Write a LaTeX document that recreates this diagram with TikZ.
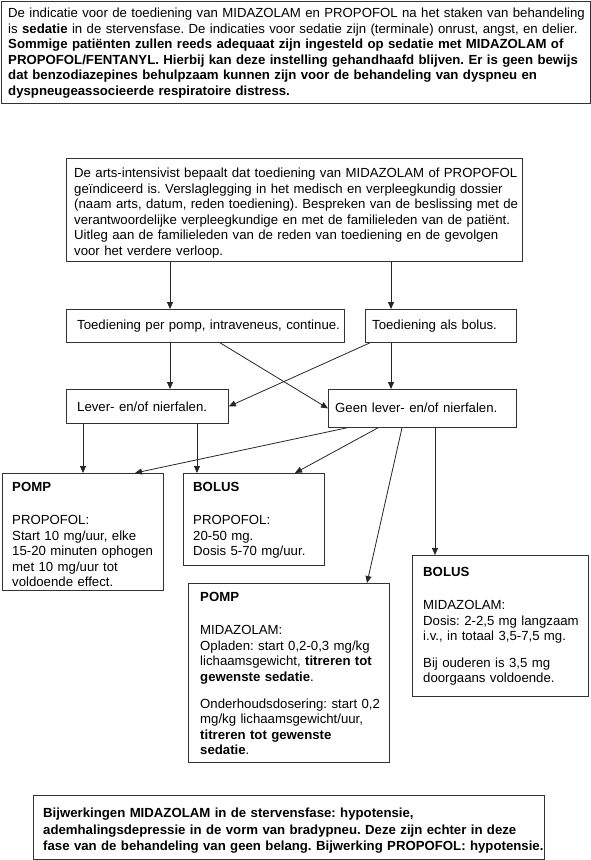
\documentclass[tikz,border=0pt]{standalone}
\usepackage{fontspec}
\setmainfont{Liberation Sans}
\usetikzlibrary{arrows.meta}
\frenchspacing
\begin{document}
\begin{tikzpicture}[x=1pt,y=-1pt,
  box/.style={draw=black!80, line width=0.8pt, inner sep=0pt, anchor=north west},
  txt/.style={anchor=base west, inner sep=0pt, align=left, font=\fontsize{13.2}{15.5}\selectfont},
  arr/.style={draw=black!85, line width=0.8pt, -{Triangle[length=7pt,width=6pt]}}]
\useasboundingbox (0,0) rectangle (591,860);
% boxes
\node[box, minimum width=589pt, minimum height=102pt] (top) at (1,1) {};
\node[box, minimum width=456pt, minimum height=103pt] (b2) at (66,158) {};
\node[box, minimum width=278pt, minimum height=33pt] (pomp1) at (66,309) {};
\node[box, minimum width=151pt, minimum height=33pt] (bol1) at (365,309) {};
\node[box, minimum width=162pt, minimum height=34pt] (lever) at (66,389) {};
\node[box, minimum width=188pt, minimum height=38pt] (geen) at (328,389) {};
\node[box, minimum width=161pt, minimum height=117pt] (pp) at (2,473) {};
\node[box, minimum width=141pt, minimum height=92pt] (bp) at (183,473) {};
\node[box, minimum width=201pt, minimum height=179pt] (pm) at (188,583) {};
\node[box, minimum width=176pt, minimum height=141pt] (bm) at (412,555) {};
\node[box, minimum width=511pt, minimum height=64pt] (bot) at (33,795) {};
% texts
\node[txt, text width=585pt] (ttop) at (8,17.5) {De indicatie voor de toediening van MIDAZOLAM en PROPOFOL na het staken van behandeling\\
is \textbf{sedatie} in de stervensfase. De indicaties voor sedatie zijn (terminale) onrust, angst, en delier.\\
\textbf{Sommige patiënten zullen reeds adequaat zijn ingesteld op sedatie met MIDAZOLAM of}\\
\textbf{PROPOFOL/FENTANYL. Hierbij kan deze instelling gehandhaafd blijven. Er is geen bewijs}\\
\textbf{dat benzodiazepines behulpzaam kunnen zijn voor de behandeling van dyspneu en}\\
\textbf{dyspneugeassocieerde respiratoire distress.}};
\node[txt, text width=450pt] (tb2) at (74,177.5) {De arts-intensivist bepaalt dat toediening van MIDAZOLAM of PROPOFOL\\
geïndiceerd is. Verslaglegging in het medisch en verpleegkundig dossier\\
(naam arts, datum, reden toediening). Bespreken van de beslissing met de\\
verantwoordelijke verpleegkundige en met de familieleden van de patiënt.\\
Uitleg aan de familieleden van de reden van toediening en de gevolgen\\
voor het verdere verloop.};
\node[txt, text width=270pt] (tpomp1) at (77,329.5) {Toediening per pomp, intraveneus, continue.};
\node[txt, text width=145pt] (tbol1) at (372,329.5) {Toediening als bolus.};
\node[txt, text width=150pt] (tlever) at (77,411.5) {Lever- en/of nierfalen.};
\node[txt, text width=180pt] (tgeen) at (335,412.5) {Geen lever- en/of nierfalen.};
\node[txt, text width=155pt] (tpp) at (12,491.5) {\textbf{POMP}\\[17.5pt]
PROPOFOL:\\
Start 10 mg/uur, elke\\
15-20 minuten ophogen\\
met 10 mg/uur tot\\
voldoende effect.};
\node[txt, text width=138pt] (tbp) at (193,491.5) {\textbf{BOLUS}\\[17.5pt]
PROPOFOL:\\
20-50 mg.\\
Dosis 5-70 mg/uur.};
\node[txt, text width=188pt] (tpm) at (200,601.5) {\textbf{POMP}\\[17.5pt]
MIDAZOLAM:\\
Opladen: start 0,2-0,3 mg/kg\\
lichaamsgewicht, \textbf{titreren tot}\\
\textbf{gewenste sedatie}.\\[11.5pt]
Onderhoudsdosering: start 0,2\\
mg/kg lichaamsgewicht/uur,\\
\textbf{titreren tot gewenste}\\
\textbf{sedatie}.};
\node[txt, text width=170pt] (tbm) at (423,576.5) {\textbf{BOLUS}\\[17.5pt]
MIDAZOLAM:\\
Dosis: 2-2,5 mg langzaam\\
i.v., in totaal 3,5-7,5 mg.\\[11pt]
Bij ouderen is 3,5 mg\\
doorgaans voldoende.};
\node[txt, text width=510pt, font=\fontsize{13.2}{16.5}\selectfont\bfseries] (tbot) at (43,817.5) {Bijwerkingen MIDAZOLAM in de stervensfase: hypotensie,\\
ademhalingsdepressie in de vorm van bradypneu. Deze zijn echter in deze\\
fase van de behandeling van geen belang. Bijwerking PROPOFOL: hypotensie.};
% connectors
\draw[arr] ([xshift=104pt]b2.south west) -- ([xshift=104pt]pomp1.north west);
\draw[arr] ([xshift=325pt]b2.south west) -- ([xshift=26pt]bol1.north west);
\draw[arr] ([xshift=104pt]pomp1.south west) -- ([xshift=104pt]lever.north west);
\draw[arr] ([xshift=154pt]pomp1.south west) -- (geen.west);
\draw[arr] ([xshift=5pt]bol1.south west) -- (lever.east);
\draw[arr] ([xshift=26pt]bol1.south west) -- ([xshift=63pt]geen.north west);
\draw[arr] ([xshift=17pt]lever.south west) -- ([xshift=81pt]pp.north west);
\draw[arr] ([xshift=131pt]lever.south west) -- ([xshift=14pt]bp.north west);
\draw[arr] ([xshift=19pt]geen.south west) -- ([xshift=133pt]pp.north west);
\draw[arr] ([xshift=50pt]geen.south west) -- ([xshift=112pt]bp.north west);
\draw[arr] ([xshift=74pt]geen.south west) -- ([xshift=179pt]pm.north west);
\draw[arr] ([xshift=107pt]geen.south west) -- ([xshift=23pt]bm.north west);
\end{tikzpicture}
\end{document}
